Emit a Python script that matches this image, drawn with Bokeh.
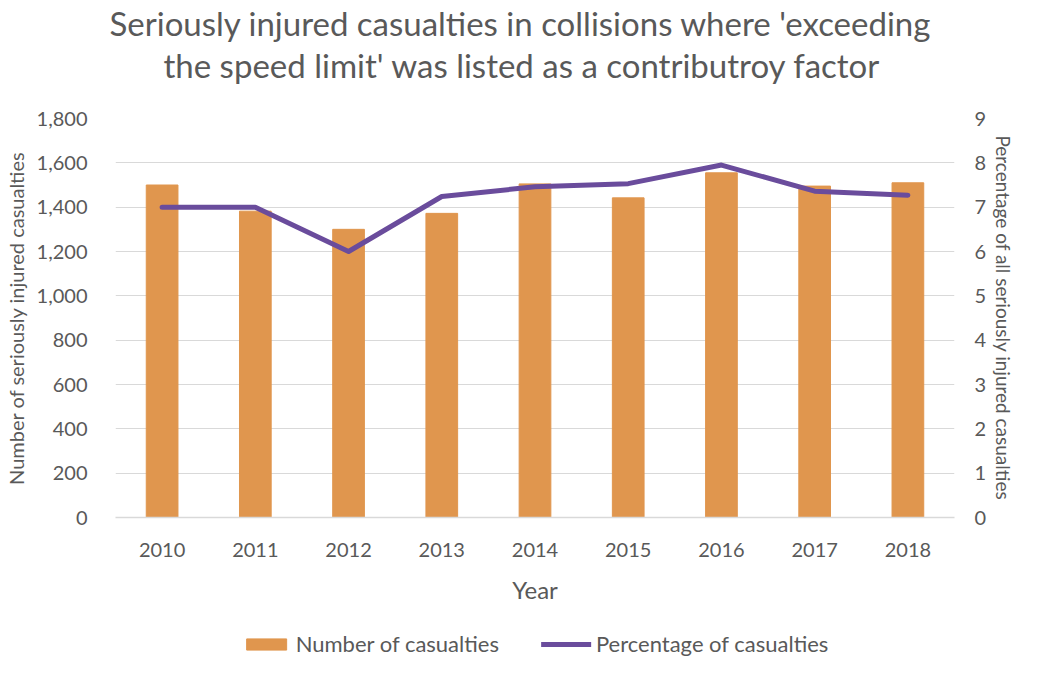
from bokeh.plotting import figure
from bokeh.layouts import column
from bokeh.models import (FactorRange, Range1d, LinearAxis, Title, Legend, LegendItem,
                          NumeralTickFormatter, FixedTicker)
from bokeh.embed import file_html
from bokeh.resources import INLINE

years = ["2010", "2011", "2012", "2013", "2014", "2015", "2016", "2017", "2018"]
casualties = [1500, 1382, 1300, 1372, 1505, 1442, 1555, 1495, 1510]
percentage = [7.0, 7.0, 6.0, 7.24, 7.46, 7.53, 7.95, 7.36, 7.27]
left_ticks = [0, 200, 400, 600, 800, 1000, 1200, 1400, 1600, 1800]
right_ticks = [0, 1, 2, 3, 4, 5, 6, 7, 8, 9]
title_lines = ["Seriously injured casualties in collisions where 'exceeding",
               "the speed limit' was listed as a contributroy factor"]
legend_labels = ["Number of casualties", "Percentage of casualties"]

FONT = "Lato"
GREY = "#595959"
BAR = "#E0964E"
LINE = "#6A4C9C"

p = figure(x_range=FactorRange(*years), y_range=Range1d(0, 1800),
           width=1023, height=606,
           min_border_left=108, min_border_right=69, min_border_top=0, min_border_bottom=0,
           output_backend="svg", toolbar_location=None)
p.extra_y_ranges = {"pct": Range1d(0, 9)}

p.vbar(x=years, top=casualties, width=0.34, color=BAR)
p.line(x=years, y=percentage, y_range_name="pct", color=LINE, line_width=5,
       line_cap="round", line_join="round")

p.outline_line_color = None
p.xgrid.grid_line_color = None
p.ygrid.grid_line_color = "#d9d9d9"
p.ygrid.grid_line_width = 1
p.ygrid.ticker = FixedTicker(ticks=left_ticks)

# left axis
ya = p.yaxis[0]
ya.ticker = FixedTicker(ticks=left_ticks)
ya.formatter = NumeralTickFormatter(format="0,0")
ya.axis_line_color = None
ya.major_tick_line_color = None
ya.minor_tick_line_color = None
ya.major_label_text_font = FONT
ya.major_label_text_font_size = "20px"
ya.major_label_text_color = GREY
ya.major_label_standoff = 22
ya.axis_label = "Number of seriously injured casualties"
ya.axis_label_text_font = FONT
ya.axis_label_text_font_size = "20px"
ya.axis_label_text_font_style = "normal"
ya.axis_label_text_color = GREY
ya.axis_label_standoff = 6

# right axis
ra = LinearAxis(y_range_name="pct", ticker=FixedTicker(ticks=right_ticks))
ra.axis_line_color = None
ra.major_tick_line_color = None
ra.minor_tick_line_color = None
ra.major_label_text_font = FONT
ra.major_label_text_font_size = "20px"
ra.major_label_text_color = GREY
ra.major_label_standoff = 14
ra.axis_label = "Percentage of all seriously injured casualties"
ra.axis_label_text_font = FONT
ra.axis_label_text_font_size = "19px"
ra.axis_label_text_font_style = "normal"
ra.axis_label_text_color = GREY
ra.axis_label_standoff = 3
p.add_layout(ra, "right")

# x axis
xa = p.xaxis[0]
xa.axis_line_color = "#d9d9d9"
xa.axis_line_width = 1.5
xa.major_tick_line_color = None
xa.minor_tick_line_color = None
xa.major_label_text_font = FONT
xa.major_label_text_font_size = "20px"
xa.major_label_text_color = GREY
xa.major_label_standoff = 19
xa.axis_label = "Year"
xa.axis_label_text_font = FONT
xa.axis_label_text_font_size = "24px"
xa.axis_label_text_font_style = "normal"
xa.axis_label_text_color = GREY
xa.axis_label_standoff = 15

# title: two centred lines, plus a blank spacer between title and plot
spacer = Title(text=" ", text_font=FONT, text_font_size="26px", standoff=0)
t2 = Title(text=title_lines[1], align="left", offset=48,
           text_font=FONT, text_font_size="33px", text_font_style="normal",
           text_color=GREY, standoff=0)
t1 = Title(text=title_lines[0], align="left", offset=-6,
           text_font=FONT, text_font_size="33px", text_font_style="normal",
           text_color=GREY, standoff=0)
p.add_layout(spacer, "above")
p.add_layout(t2, "above")
p.add_layout(t1, "above")

# legend strip underneath (same data and styles; its range sits far above the data,
# so the glyphs fall well below the strip and only the legend is seen)
lg = figure(x_range=FactorRange(*years), y_range=Range1d(1000000, 1000010),
            width=1023, height=51, min_border=0,
            output_backend="svg", toolbar_location=None)
lg.axis.visible = False
lg.grid.grid_line_color = None
lg.outline_line_color = None
lbars = lg.vbar(x=years, top=casualties, width=0.34, color=BAR)
lline = lg.line(x=years, y=percentage, color=LINE, line_width=5, line_cap="round")
legend = Legend(items=[LegendItem(label=legend_labels[0], renderers=[lbars]),
                       LegendItem(label=legend_labels[1], renderers=[lline])],
                orientation="horizontal", location="bottom_center",
                label_text_font=FONT, label_text_font_size="22px", label_text_color=GREY,
                glyph_width=50, glyph_height=14, spacing=42, label_standoff=5,
                padding=0, margin=0,
                border_line_color=None, background_fill_alpha=0)
lg.add_layout(legend, "center")

open("out.html", "w").write(file_html(column(p, lg), INLINE))
